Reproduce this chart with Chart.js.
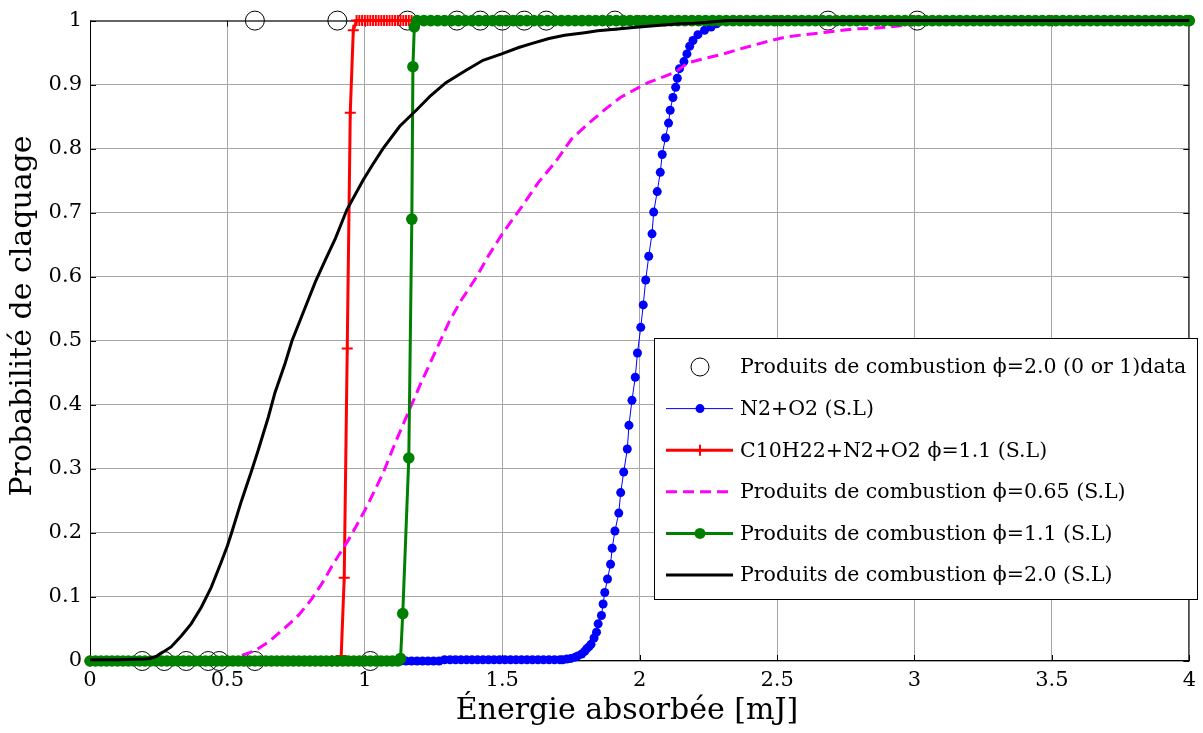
<!DOCTYPE html>
<html>
<head>
<meta charset="utf-8">
<script src="https://cdn.jsdelivr.net/npm/chart.js@4.4.1/dist/chart.umd.min.js"></script>
<style>
  html, body { margin: 0; padding: 0; background: #fff; }
  #wrap { width: 1203px; height: 733px; }
</style>
</head>
<body>
<div id="wrap"><canvas id="chart" width="1203" height="733"></canvas></div>
<script>
// tick positions
const xTicks = [0, 0.5, 1, 1.5, 2, 2.5, 3, 3.5, 4];
const yTicks = [0, 0.1, 0.2, 0.3, 0.4, 0.5, 0.6, 0.7, 0.8, 0.9, 1];

const xTitle = 'Énergie absorbée [mJ]';
const yTitle = 'Probabilité de claquage';

const seriesLabels = [
  'Produits de combustion ϕ=2.0 (0 or 1)data',
  'N2+O2 (S.L)',
  'C10H22+N2+O2 ϕ=1.1 (S.L)',
  'Produits de combustion ϕ=0.65 (S.L)',
  'Produits de combustion ϕ=1.1 (S.L)',
  'Produits de combustion ϕ=2.0 (S.L)'
];

// raw 0/1 outcomes (open circles)
const rawOutcomes = [
  [0.19, 0], [0.27, 0], [0.35, 0], [0.43, 0], [0.47, 0], [0.6, 0], [1.02, 0],
  [0.6, 1], [0.9, 1], [1.155, 1], [1.335, 1], [1.42, 1], [1.5, 1], [1.58, 1],
  [1.66, 1], [1.91, 1], [2.685, 1], [3.01, 1]
];

// N2+O2
const n2o2 = [
  [1.13, 0], [1.15, 0], [1.17, 0], [1.19, 0], [1.21, 0], [1.23, 0], [1.25, 0], [1.27, 0],
  [1.29, 0.002], [1.31, 0.002], [1.33, 0.002], [1.35, 0.002], [1.37, 0.002], [1.39, 0.002],
  [1.41, 0.002], [1.43, 0.002], [1.45, 0.002], [1.47, 0.002], [1.49, 0.002], [1.51, 0.002],
  [1.53, 0.002], [1.55, 0.002], [1.57, 0.002], [1.59, 0.002], [1.61, 0.002], [1.63, 0.002],
  [1.65, 0.002], [1.67, 0.002], [1.69, 0.002], [1.71, 0.002], [1.72, 0.002],
  [1.735, 0.003], [1.75, 0.004], [1.765, 0.006], [1.775, 0.008], [1.789, 0.011],
  [1.8, 0.015], [1.807, 0.019], [1.815, 0.022], [1.823, 0.026], [1.834, 0.036],
  [1.843, 0.045], [1.849, 0.058], [1.861, 0.071], [1.867, 0.089], [1.873, 0.107],
  [1.883, 0.128], [1.894, 0.151], [1.9, 0.176], [1.91, 0.203], [1.924, 0.231],
  [1.931, 0.263], [1.942, 0.295], [1.955, 0.331], [1.961, 0.368], [1.972, 0.407],
  [1.984, 0.443], [1.992, 0.481], [2.004, 0.521], [2.013, 0.556], [2.022, 0.595],
  [2.033, 0.632], [2.045, 0.667], [2.051, 0.701], [2.064, 0.733], [2.075, 0.763],
  [2.082, 0.791], [2.094, 0.817], [2.105, 0.84], [2.111, 0.86], [2.121, 0.88],
  [2.131, 0.896], [2.137, 0.91], [2.145, 0.925], [2.161, 0.936], [2.172, 0.948],
  [2.182, 0.96], [2.194, 0.969], [2.212, 0.978], [2.236, 0.985], [2.26, 0.99],
  [2.28, 0.995], [2.3, 1], [2.5, 1], [3, 1], [3.5, 1], [4, 1]
];

// C10H22+N2+O2 phi=1.1
const decane = [
  [0, 0], [0.88, 0], [0.9, 0], [0.914, 0.008], [0.925, 0.13], [0.936, 0.488],
  [0.947, 0.856], [0.958, 0.985], [0.97, 1], [0.98, 1], [0.99, 1], [1, 1], [1.01, 1],
  [1.02, 1], [1.03, 1], [1.04, 1], [1.05, 1], [1.06, 1], [1.07, 1], [1.08, 1], [1.09, 1],
  [1.1, 1], [1.11, 1], [1.12, 1], [1.13, 1], [1.14, 1], [1.15, 1], [1.16, 1], [1.17, 1],
  [1.5, 1], [2, 1], [2.5, 1], [3, 1], [3.5, 1], [4, 1]
];

// combustion products phi=0.65
const prod065 = [
  [0, 0], [0.5, 0], [0.52, 0.003], [0.56, 0.01], [0.6, 0.016], [0.65, 0.03], [0.71, 0.052],
  [0.76, 0.072], [0.807, 0.097], [0.85, 0.125], [0.88, 0.148], [0.915, 0.172], [0.946, 0.193],
  [1.006, 0.24], [1.066, 0.293], [1.11, 0.34], [1.157, 0.387], [1.2, 0.43], [1.247, 0.474],
  [1.307, 0.53], [1.35, 0.563], [1.404, 0.598], [1.45, 0.633], [1.5, 0.667], [1.572, 0.71],
  [1.631, 0.747], [1.693, 0.779], [1.752, 0.815], [1.81, 0.838], [1.873, 0.861], [1.93, 0.88],
  [1.994, 0.895], [2.03, 0.903], [2.091, 0.913], [2.13, 0.92], [2.176, 0.934], [2.237, 0.941],
  [2.297, 0.947], [2.36, 0.955], [2.418, 0.962], [2.48, 0.969], [2.539, 0.975], [2.6, 0.978],
  [2.66, 0.981], [2.72, 0.984], [2.781, 0.987], [2.85, 0.988], [2.902, 0.99], [2.95, 0.992],
  [3, 0.994], [3.1, 0.997], [3.3, 1], [4, 1]
];

// combustion products phi=1.1
const prod11 = [
  [0, 0], [0.02, 0], [0.04, 0], [0.06, 0], [0.08, 0], [0.1, 0], [0.12, 0], [0.14, 0], [0.16, 0],
  [0.18, 0], [0.2, 0], [0.22, 0], [0.24, 0], [0.26, 0], [0.28, 0], [0.3, 0], [0.32, 0], [0.34, 0],
  [0.36, 0], [0.38, 0], [0.4, 0], [0.42, 0], [0.44, 0], [0.46, 0], [0.48, 0], [0.5, 0], [0.52, 0],
  [0.54, 0], [0.56, 0], [0.58, 0], [0.6, 0], [0.62, 0], [0.64, 0], [0.66, 0], [0.68, 0], [0.7, 0],
  [0.72, 0], [0.74, 0], [0.76, 0], [0.78, 0], [0.8, 0], [0.82, 0], [0.84, 0], [0.86, 0], [0.88, 0],
  [0.9, 0], [0.92, 0], [0.94, 0], [0.96, 0], [0.98, 0], [1, 0], [1.02, 0], [1.04, 0], [1.06, 0],
  [1.08, 0], [1.1, 0], [1.12, 0],
  [1.13, 0.004], [1.138, 0.074], [1.16, 0.317], [1.171, 0.69], [1.175, 0.928], [1.18, 0.99],
  [1.19, 1], [1.215, 1], [1.24, 1], [1.265, 1], [1.29, 1], [1.315, 1], [1.34, 1], [1.365, 1],
  [1.39, 1], [1.415, 1], [1.44, 1], [1.465, 1], [1.49, 1], [1.515, 1], [1.54, 1], [1.565, 1],
  [1.59, 1], [1.615, 1], [1.64, 1], [1.665, 1], [1.69, 1], [1.715, 1], [1.74, 1], [1.765, 1],
  [1.79, 1], [1.815, 1], [1.84, 1], [1.865, 1], [1.89, 1], [1.915, 1], [1.94, 1], [1.965, 1],
  [1.99, 1], [2.015, 1], [2.04, 1], [2.065, 1], [2.09, 1], [2.115, 1], [2.14, 1], [2.165, 1],
  [2.19, 1], [2.215, 1], [2.24, 1], [2.265, 1], [2.29, 1], [2.315, 1], [2.34, 1], [2.365, 1],
  [2.39, 1], [2.415, 1], [2.44, 1], [2.465, 1], [2.49, 1], [2.515, 1], [2.54, 1], [2.565, 1],
  [2.59, 1], [2.615, 1], [2.64, 1], [2.665, 1], [2.69, 1], [2.715, 1], [2.74, 1], [2.765, 1],
  [2.79, 1], [2.815, 1], [2.84, 1], [2.865, 1], [2.89, 1], [2.915, 1], [2.94, 1], [2.965, 1],
  [2.99, 1], [3.015, 1], [3.04, 1], [3.065, 1], [3.09, 1], [3.115, 1], [3.14, 1], [3.165, 1],
  [3.19, 1], [3.215, 1], [3.24, 1], [3.265, 1], [3.29, 1], [3.315, 1], [3.34, 1], [3.365, 1],
  [3.39, 1], [3.415, 1], [3.44, 1], [3.465, 1], [3.49, 1], [3.515, 1], [3.54, 1], [3.565, 1],
  [3.59, 1], [3.615, 1], [3.64, 1], [3.665, 1], [3.69, 1], [3.715, 1], [3.74, 1], [3.765, 1],
  [3.79, 1], [3.815, 1], [3.84, 1], [3.865, 1], [3.89, 1], [3.915, 1], [3.94, 1], [3.965, 1],
  [3.99, 1], [4, 1]
];

// combustion products phi=2.0
const prod20 = [
  [0, 0.002], [0.1, 0.002], [0.2, 0.003], [0.216, 0.004], [0.24, 0.007], [0.259, 0.012],
  [0.295, 0.022], [0.332, 0.039], [0.368, 0.058], [0.405, 0.084], [0.441, 0.115], [0.478, 0.155],
  [0.5, 0.18], [0.515, 0.2], [0.551, 0.25], [0.588, 0.297], [0.612, 0.329], [0.649, 0.381],
  [0.673, 0.419], [0.71, 0.465], [0.735, 0.5], [0.783, 0.552], [0.82, 0.592], [0.856, 0.626],
  [0.893, 0.66], [0.935, 0.705], [0.994, 0.751], [1.027, 0.774], [1.066, 0.8], [1.127, 0.835],
  [1.187, 0.86], [1.24, 0.883], [1.295, 0.903], [1.367, 0.922], [1.43, 0.938], [1.498, 0.948],
  [1.56, 0.958], [1.606, 0.964], [1.67, 0.972], [1.727, 0.977], [1.8, 0.981], [1.847, 0.984],
  [1.92, 0.987], [1.967, 0.989], [2.03, 0.991], [2.088, 0.993], [2.15, 0.995], [2.2, 0.996],
  [2.26, 0.998], [2.32, 1], [4, 1]
];

const toXY = arr => arr.map(p => ({ x: p[0], y: p[1] }));
const SERIF = "'DejaVu Serif', 'Liberation Serif', serif";

// legend look for each series (drawn by hand, MATLAB style)
const legendStyles = [
  { line: null, marker: 'ring', color: '#000' },
  { line: 1, marker: 'dot', r: 4.5, color: '#0000ff' },
  { line: 3, marker: 'cross', r: 5.5, color: '#ff0000' },
  { line: 3, dash: [11, 6], marker: null, color: '#ff00ff' },
  { line: 3, marker: 'dot', r: 5.5, color: '#008000' },
  { line: 3, marker: null, color: '#000' }
];

const frame = {
  id: 'frame',
  beforeDatasetsDraw(chart) {
    const { ctx, chartArea: a, scales: { x, y } } = chart;
    ctx.save();
    ctx.strokeStyle = '#000';
    ctx.lineWidth = 1;
    ctx.strokeRect(a.left + 0.5, a.top + 0.5, a.right - a.left - 1, a.bottom - a.top - 1);
    ctx.beginPath();
    xTicks.forEach(v => {
      const px = Math.round(x.getPixelForValue(v)) + 0.5;
      ctx.moveTo(px, a.bottom); ctx.lineTo(px, a.bottom - 6);
      ctx.moveTo(px, a.top); ctx.lineTo(px, a.top + 6);
    });
    yTicks.forEach(v => {
      const py = Math.round(y.getPixelForValue(v)) + 0.5;
      ctx.moveTo(a.left, py); ctx.lineTo(a.left + 6, py);
      ctx.moveTo(a.right, py); ctx.lineTo(a.right - 6, py);
    });
    ctx.stroke();
    ctx.restore();
  },
  afterDraw(chart) {
    const { ctx } = chart;
    ctx.save();
    // axis titles
    ctx.fillStyle = '#000';
    ctx.font = '30px ' + SERIF;
    ctx.textAlign = 'center';
    ctx.textBaseline = 'middle';
    ctx.fillText(xTitle, 627, 711);
    ctx.translate(23, 316);
    ctx.rotate(-Math.PI / 2);
    ctx.fillText(yTitle, 0, 0);
    ctx.setTransform(1, 0, 0, 1, 0, 0);

    // legend box
    const bx = 654, by = 338, bw = 543, bh = 261;
    ctx.fillStyle = '#fff';
    ctx.fillRect(bx, by, bw, bh);
    ctx.strokeStyle = '#000';
    ctx.lineWidth = 1;
    ctx.strokeRect(bx + 0.5, by + 0.5, bw, bh);

    ctx.font = '20.5px ' + SERIF;
    ctx.textAlign = 'left';
    ctx.textBaseline = 'middle';
    seriesLabels.forEach((label, i) => {
      const st = legendStyles[i];
      const cy = 367 + i * 41.6;
      ctx.strokeStyle = st.color;
      ctx.fillStyle = st.color;
      if (st.line) {
        ctx.lineWidth = st.line;
        ctx.setLineDash(st.dash || []);
        ctx.beginPath();
        ctx.moveTo(666, cy); ctx.lineTo(733, cy);
        ctx.stroke();
        ctx.setLineDash([]);
      }
      if (st.marker === 'ring') {
        ctx.lineWidth = 1;
        ctx.beginPath(); ctx.arc(700, cy, 9, 0, Math.PI * 2); ctx.stroke();
      } else if (st.marker === 'dot') {
        ctx.beginPath(); ctx.arc(700, cy, st.r, 0, Math.PI * 2); ctx.fill();
      } else if (st.marker === 'cross') {
        ctx.lineWidth = 2;
        ctx.beginPath();
        ctx.moveTo(700 - st.r, cy); ctx.lineTo(700 + st.r, cy);
        ctx.moveTo(700, cy - st.r); ctx.lineTo(700, cy + st.r);
        ctx.stroke();
      }
      ctx.fillStyle = '#000';
      ctx.fillText(label, 740, cy + 1);
    });
    ctx.restore();
  }
};

new Chart(document.getElementById('chart'), {
  type: 'scatter',
  data: {
    datasets: [
      {
        label: seriesLabels[0], data: toXY(rawOutcomes), showLine: false, order: 6, clip: false,
        pointStyle: 'circle', pointRadius: 9.5, pointBorderWidth: 1,
        pointBorderColor: '#000', pointBackgroundColor: 'rgba(0,0,0,0)'
      },
      {
        label: seriesLabels[1], data: toXY(n2o2), showLine: true, order: 5, clip: false,
        borderColor: '#0000ff', borderWidth: 1,
        pointStyle: 'circle', pointRadius: 4.5, pointBorderWidth: 0,
        pointBackgroundColor: '#0000ff'
      },
      {
        label: seriesLabels[2], data: toXY(decane), showLine: true, order: 4, clip: false,
        borderColor: '#ff0000', borderWidth: 3,
        pointStyle: 'cross', pointRadius: 5.5, pointBorderWidth: 2,
        pointBorderColor: '#ff0000'
      },
      {
        label: seriesLabels[3], data: toXY(prod065), showLine: true, order: 3, clip: false,
        borderColor: '#ff00ff', borderWidth: 3, borderDash: [11, 6], pointRadius: 0
      },
      {
        label: seriesLabels[4], data: toXY(prod11), showLine: true, order: 2, clip: false,
        borderColor: '#008000', borderWidth: 3,
        pointStyle: 'circle', pointRadius: 5.8, pointBorderWidth: 0,
        pointBackgroundColor: '#008000'
      },
      {
        label: seriesLabels[5], data: toXY(prod20), showLine: true, order: 1, clip: false,
        borderColor: '#000', borderWidth: 3, pointRadius: 0
      }
    ]
  },
  options: {
    responsive: false,
    animation: false,
    devicePixelRatio: 1,
    layout: { padding: { left: 0, right: 6, top: 17, bottom: 0 } },
    plugins: { legend: { display: false }, tooltip: { enabled: false } },
    scales: {
      x: {
        type: 'linear', min: 0, max: 4,
        afterBuildTicks: s => { s.ticks = xTicks.map(v => ({ value: v })); },
        afterFit: s => { s.height = 72; },
        grid: { color: '#a6a6a6', lineWidth: 1, drawTicks: false },
        border: { display: false },
        ticks: {
          padding: 7, color: '#000', maxRotation: 0,
          font: { family: SERIF, size: 21 },
          callback: v => String(v)
        }
      },
      y: {
        type: 'linear', min: 0, max: 1,
        afterBuildTicks: s => { s.ticks = yTicks.map(v => ({ value: v })); },
        afterFit: s => { s.width = 90; },
        grid: { color: '#a6a6a6', lineWidth: 1, drawTicks: false },
        border: { display: false },
        ticks: {
          padding: 8, color: '#000',
          font: { family: SERIF, size: 21 },
          callback: v => String(v)
        }
      }
    }
  },
  plugins: [frame]
});
</script>
</body>
</html>
